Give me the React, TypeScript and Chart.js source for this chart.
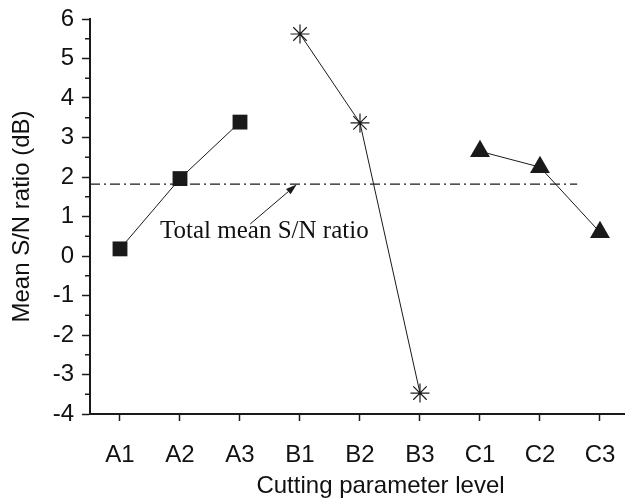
import React, { useEffect, useRef } from "react";
import { Chart, registerables } from "chart.js";
Chart.register(...registerables);

const categories = ["A1", "A2", "A3", "B1", "B2", "B3", "C1", "C2", "C3"];
const seriesA = [0.18, 1.96, 3.39];
const seriesB = [5.62, 3.37, -3.47];
const seriesC = [2.65, 2.25, 0.6];
const totalMean = 1.82;
const meanLineX = [-0.5, 7.62];
const yRange = [-4, 6];
const xRange = [-0.5, 8.417];
const xTitle = "Cutting parameter level";
const yTitle = "Mean S/N ratio (dB)";
const annotationText = "Total mean S/N ratio";
const annotationTextAt = [0.667, 0.63];
const arrowFrom = [2.17, 0.81];
const arrowTo = [2.945, 1.81];

const INK = "#1a1a1a";
const TEXT = "#111";

const toPoints = (vals: number[], offset: number) =>
  vals.map((y, i) => ({ x: offset + i, y }));

const extrasPlugin = {
  id: "extras",
  afterDraw(chart: any) {
    const { ctx } = chart;
    const xs = chart.scales.x;
    const ys = chart.scales.y;
    ctx.save();
    // minor ticks on y axis
    ctx.strokeStyle = INK;
    ctx.lineWidth = 1.5;
    const ticks = ys.ticks.map((t: any) => t.value);
    for (let i = 0; i < ticks.length - 1; i++) {
      const v = (ticks[i] + ticks[i + 1]) / 2;
      const py = ys.getPixelForValue(v);
      ctx.beginPath();
      ctx.moveTo(ys.right - 5, py);
      ctx.lineTo(ys.right, py);
      ctx.stroke();
    }
    // x axis title (centred on the full original axis, which runs past the crop)
    ctx.fillStyle = TEXT;
    ctx.font = "24px 'Liberation Sans', Arial, sans-serif";
    ctx.textAlign = "center";
    ctx.textBaseline = "middle";
    ctx.fillText(xTitle, (xs.left + xs.right) / 2 + 23, xs.bottom - 14);
    // annotation text
    ctx.font = "25px 'Liberation Serif', 'Times New Roman', serif";
    ctx.textAlign = "left";
    ctx.textBaseline = "middle";
    ctx.fillText(
      annotationText,
      xs.getPixelForValue(annotationTextAt[0]),
      ys.getPixelForValue(annotationTextAt[1])
    );
    // arrow
    ctx.fillStyle = INK;
    const x0 = xs.getPixelForValue(arrowFrom[0]);
    const y0 = ys.getPixelForValue(arrowFrom[1]);
    const x1 = xs.getPixelForValue(arrowTo[0]);
    const y1 = ys.getPixelForValue(arrowTo[1]);
    const ang = Math.atan2(y1 - y0, x1 - x0);
    const headLen = 11;
    const headW = 3.5;
    const bx = x1 - Math.cos(ang) * headLen;
    const by = y1 - Math.sin(ang) * headLen;
    ctx.lineWidth = 1;
    ctx.beginPath();
    ctx.moveTo(x0, y0);
    ctx.lineTo(bx, by);
    ctx.stroke();
    ctx.beginPath();
    ctx.moveTo(x1, y1);
    ctx.lineTo(bx - Math.sin(ang) * headW, by + Math.cos(ang) * headW);
    ctx.lineTo(bx + Math.sin(ang) * headW, by - Math.cos(ang) * headW);
    ctx.closePath();
    ctx.fill();
    ctx.restore();
  },
};

export default function App() {
  const ref = useRef<HTMLCanvasElement>(null);
  useEffect(() => {
    if (!ref.current) return;
    Chart.defaults.font.family = "'Liberation Sans', Arial, sans-serif";
    Chart.defaults.color = TEXT;
    const common = {
      borderColor: INK,
      borderWidth: 1,
      pointBorderColor: INK,
      pointBackgroundColor: INK,
      showLine: true,
      tension: 0,
    };
    const chart = new Chart(ref.current, {
      type: "scatter",
      data: {
        datasets: [
          {
            ...common,
            data: meanLineX.map((x) => ({ x, y: totalMean })),
            pointRadius: 0,
            borderWidth: 1.3,
            borderDash: [10, 4, 2, 4],
          },
          {
            ...common,
            data: toPoints(seriesA, 0),
            pointStyle: "rect",
            pointRadius: 10.5,
            pointBorderWidth: 0,
          },
          {
            ...common,
            data: toPoints(seriesB, 3),
            pointStyle: "star",
            pointRadius: 9.5,
            pointBorderWidth: 1.2,
          },
          {
            ...common,
            data: toPoints(seriesC, 6),
            pointStyle: "triangle",
            pointRadius: 11.5,
            pointBorderWidth: 0,
          },
        ] as any,
      },
      options: {
        animation: false,
        responsive: false,
        maintainAspectRatio: false,
        layout: { autoPadding: false, padding: { top: 19, right: 0, bottom: 0, left: 0 } },
        plugins: { legend: { display: false }, tooltip: { enabled: false } },
        scales: {
          x: {
            type: "linear",
            min: xRange[0],
            max: xRange[1],
            afterBuildTicks: (s: any) => {
              s.ticks = categories.map((_, i) => ({ value: i }));
            },
            afterFit: (s: any) => {
              s.height = 86;
              s.paddingLeft = 0;
              s.paddingRight = 0;
            },
            ticks: {
              callback: (v: any) => categories[v] ?? "",
              font: { size: 24 },
              padding: 20,
              color: TEXT,
              maxRotation: 0,
              autoSkip: false,
            },
            grid: {
              drawOnChartArea: false,
              tickLength: 7,
              tickWidth: 1.5,
              tickColor: INK,
            },
            border: { color: INK, width: 2 },
            title: { display: false },
          },
          y: {
            type: "linear",
            min: yRange[0],
            max: yRange[1],
            afterFit: (s: any) => {
              s.width = 90;
              s.paddingTop = 0;
              s.paddingBottom = 0;
            },
            ticks: {
              stepSize: 1,
              font: { size: 24 },
              padding: 8,
              color: TEXT,
            },
            grid: {
              drawOnChartArea: false,
              tickLength: 8,
              tickWidth: 1.5,
              tickColor: INK,
            },
            border: { color: INK, width: 2 },
            title: {
              display: true,
              text: yTitle,
              font: { size: 24 },
              color: TEXT,
              padding: { top: 8, bottom: 0 },
            },
          },
        },
      } as any,
      plugins: [extrasPlugin],
    });
    return () => chart.destroy();
  }, []);
  return (
    <div style={{ position: "absolute", left: 0, top: 0, width: 625, height: 500, background: "#fff" }}>
      <canvas ref={ref} width={625} height={500} style={{ width: 625, height: 500, display: "block" }} />
    </div>
  );
}
